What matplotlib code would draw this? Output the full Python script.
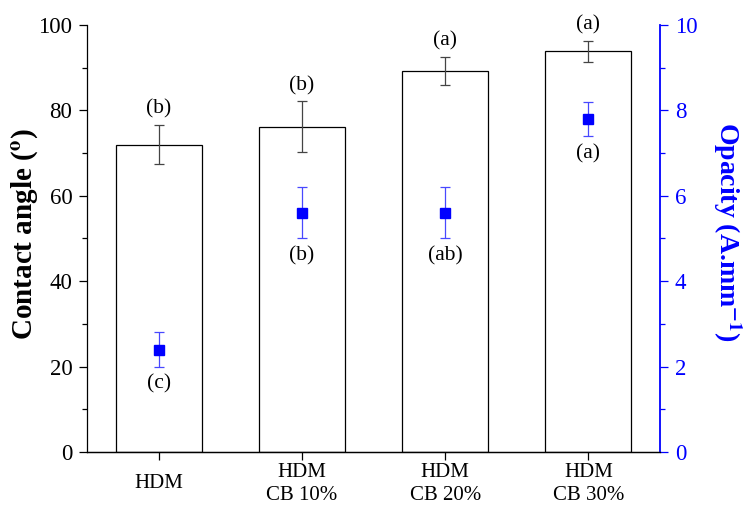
import matplotlib
matplotlib.use("Agg")
import matplotlib.pyplot as plt
import matplotlib.transforms as mtransforms
from matplotlib.ticker import MultipleLocator

plt.rcParams['font.family'] = ['Liberation Serif', 'DejaVu Serif']
plt.rcParams['mathtext.fontset'] = 'stix'

# data
samples = ["HDM", "HDM\nCB 10%", "HDM\nCB 20%", "HDM\nCB 30%"]
contact_angle = [72.0, 76.2, 89.3, 93.8]
contact_err = [4.6, 5.9, 3.3, 2.45]
opacity = [2.4, 5.6, 5.6, 7.8]
opacity_err = [0.4, 0.6, 0.6, 0.4]
ca_letters = ["(b)", "(b)", "(a)", "(a)"]
op_letters = ["(c)", "(b)", "(ab)", "(a)"]

blue = '#0000ff'
x = list(range(len(samples)))

fig = plt.figure(figsize=(7.45, 5.07), dpi=100)
ax = fig.add_axes([0.1168, 0.1085, 0.886 - 0.1168, 0.9507 - 0.1085])
ax2 = ax.twinx()

# contact angle bars
ax.bar(x, contact_angle, width=0.6, facecolor='white', edgecolor='black', linewidth=0.9, zorder=2)
ax.errorbar(x, contact_angle, yerr=contact_err, fmt='none', ecolor='#444444',
            elinewidth=0.9, capsize=3.5, capthick=0.9, zorder=3)
for xi, v, e, lab in zip(x, contact_angle, contact_err, ca_letters):
    ax.annotate(lab, (xi, v + e), xytext=(0, 11.5), textcoords='offset points',
                ha='center', va='center', fontsize=15.5)

# opacity points
ax2.errorbar(x, opacity, yerr=opacity_err, fmt='s', color=blue, ecolor='#4848ff',
             markersize=7, elinewidth=0.9, capsize=3.5, capthick=0.9, zorder=3)
for xi, v, e, lab in zip(x, opacity, opacity_err, op_letters):
    ax2.annotate(lab, (xi, v - e), xytext=(0, -12.5), textcoords='offset points',
                 ha='center', va='center', fontsize=15.5)

ax.set_xlim(-0.5, 3.5)
ax.set_ylim(0, 100)
ax2.set_ylim(0, 10)

ax.set_xticks(x)
ax.set_xticklabels(samples, fontsize=15, linespacing=1.25)
for t in ax.get_xticklabels():
    t.set_va('center')
# single-line label sits a little lower in the original
first = ax.get_xticklabels()[0]
first.set_transform(first.get_transform() +
                    mtransforms.ScaledTranslation(0, -5 / 100, fig.dpi_scale_trans))
ax.tick_params(axis='x', direction='out', length=6, width=0.9, pad=17)

ax.yaxis.set_major_locator(MultipleLocator(20))
ax.yaxis.set_minor_locator(MultipleLocator(10))
ax.tick_params(axis='y', which='major', direction='out', length=6, width=0.9, labelsize=16.5, pad=4.5)
ax.tick_params(axis='y', which='minor', direction='out', length=3.5, width=0.9)

ax2.yaxis.set_major_locator(MultipleLocator(2))
ax2.yaxis.set_minor_locator(MultipleLocator(1))
ax2.tick_params(axis='y', which='major', direction='out', length=6, width=0.9, labelsize=16.5,
                pad=4.5, colors=blue)
ax2.tick_params(axis='y', which='minor', direction='out', length=3.5, width=0.9, colors=blue)

for a in (ax, ax2):
    a.spines['top'].set_visible(False)
    a.spines['left'].set_linewidth(0.9)
    a.spines['bottom'].set_linewidth(0.9)
ax.spines['right'].set_visible(False)
ax2.spines['right'].set_color(blue)
ax2.spines['right'].set_linewidth(1.3)
ax2.spines['left'].set_visible(False)

ax.set_ylabel(r"Contact angle ($^{\mathbf{o}}$)", fontsize=21, fontweight='bold', va='center')
ax.yaxis.set_label_coords(-0.108, 0.51)
ax2.set_ylabel(r"Opacity (A.mm$^{\mathbf{-1}}$)", fontsize=20, fontweight='bold', color=blue,
               rotation=270, va='center')
ax2.yaxis.set_label_coords(1.117, 0.517)

fig.savefig('out.png', dpi=100, facecolor='white')
